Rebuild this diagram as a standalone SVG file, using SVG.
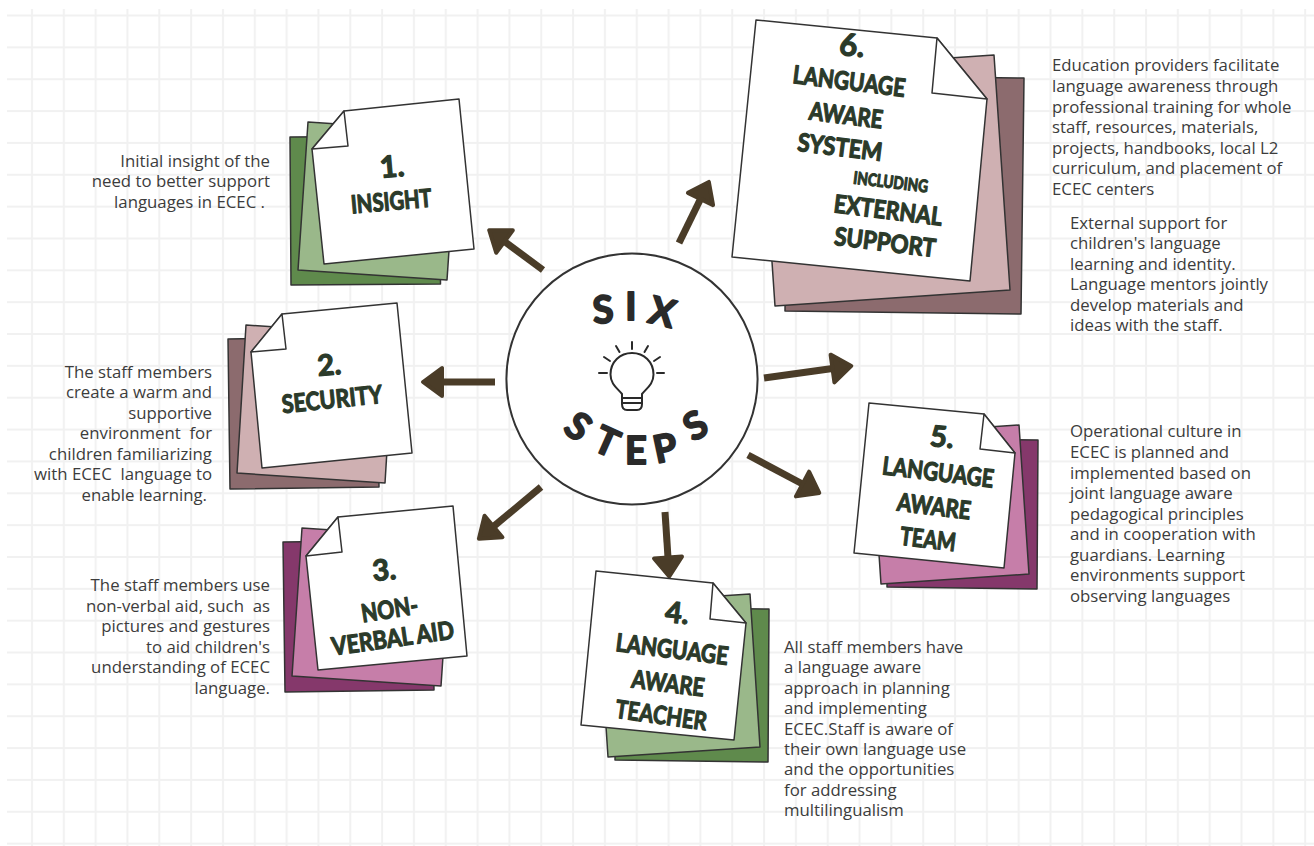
<svg xmlns="http://www.w3.org/2000/svg" width="1314" height="846" viewBox="0 0 1314 846">
<style>
.back{stroke:#333;stroke-width:1.5;stroke-linejoin:round}
.gd{fill:#5f8a4c}.gm{fill:#9ab88a}
.md{fill:#8c6b6e}.mm{fill:#cfb0b2}
.pd{fill:#85386b}.pm{fill:#c67ea9}
.sheet{fill:#fff;stroke:#333;stroke-width:1.5;stroke-linejoin:round}
.hand{font-family:Lato,"Open Sans",sans-serif;font-weight:700;fill:#2b3a2a;stroke:#2b3a2a;stroke-width:1.2;stroke-linejoin:round;text-anchor:middle}
.ring{font-family:Lato,"Open Sans",sans-serif;font-weight:700;font-size:38px;fill:#2a2a2a;stroke:#2a2a2a;stroke-width:1.8;stroke-linejoin:round;text-anchor:middle}
.body{font-family:"Open Sans",sans-serif;font-size:16.8px;fill:#3c3c3c}
.r{text-anchor:end}
.conn{stroke:#4a3c28;stroke-width:7;fill:none;marker-end:url(#head)}
.bulb{fill:none;stroke:#2a2a2a;stroke-width:2;stroke-linecap:round;stroke-linejoin:round}
</style>
<defs>
<pattern id="grid" patternUnits="userSpaceOnUse" x="16" y="-0.4" width="31.83" height="31.85">
<path d="M16 0V31.85M0 15.9H31.83" stroke="#f1f1f1" stroke-width="2" fill="none"/>
</pattern>
<marker id="head" markerUnits="userSpaceOnUse" markerWidth="28" markerHeight="36" refX="2" refY="16" orient="auto" overflow="visible">
<path d="M2 2L21 16L2 30Z" fill="#4a3c28" stroke="#4a3c28" stroke-width="4" stroke-linejoin="round"/>
</marker>
</defs>
<rect id="background" width="1314" height="846" fill="#fff"/>
<rect id="grid-paper" x="7" y="9" width="1307" height="837" fill="url(#grid)"/>

<g id="connectors">
<line class="conn" x1="543" y1="270" x2="504.5" y2="241.5"/>
<line class="conn" x1="495" y1="382" x2="442" y2="382"/>
<line class="conn" x1="541" y1="487" x2="493.5" y2="526.5"/>
<line class="conn" x1="665" y1="512" x2="668" y2="557.5"/>
<line class="conn" x1="748" y1="455" x2="802.5" y2="484"/>
<line class="conn" x1="764" y1="378" x2="832.5" y2="368.5"/>
<line class="conn" x1="679" y1="243" x2="700.5" y2="199"/>
</g>

<g id="hub">
<circle cx="632" cy="379" r="125.6" fill="#fff" stroke="#333" stroke-width="2"/>
<text class="ring" transform="translate(604 323) rotate(-4)">S</text>
<text class="ring" transform="translate(631 320)">I</text>
<text class="ring" transform="translate(659 325) rotate(14)">X</text>
<text class="ring" transform="translate(570 437) rotate(38)">S</text>
<text class="ring" transform="translate(601.500 454) rotate(24)">T</text>
<text class="ring" transform="translate(636 464) rotate(0)">E</text>
<text class="ring" transform="translate(668 461) rotate(-12)">P</text>
<text class="ring" transform="translate(702 437) rotate(-30)">S</text>
<g class="bulb">
<path d="M622 394C617 388 610.500 384 610.500 374.500C610.500 362 620 353 632 353C644 353 653.500 362 653.500 374.500C653.500 384 647 388 642 394V404C642 408 640 410 637 410H627C624 410 622 408 622 404Z"/>
<path d="M622 398H642M622 403H642"/>
<path d="M632 342V349M616 346L619.500 352M648 346L644.500 352M604 357L610 361M660 357L654 361M599 373H607M657 373H664"/>
</g>
</g>

<g id="step-1">
<polygon class="back gd" points="290,137 439.500,136 440.500,284 291,285"/>
<polygon class="back gm" points="308,122 457,132 447,280 298,270"/>
<polygon class="sheet" points="344,111 459,99 474,249 324,264 312,149"/>
<polygon class="sheet" points="344,111 312,149 348,146"/>
<text class="hand" font-size="30" transform="translate(393 177) rotate(-5)">1.</text>
<text class="hand" font-size="25" textLength="81" lengthAdjust="spacingAndGlyphs" transform="translate(392 210) rotate(-5)">INSIGHT</text>
</g>

<g id="step-2">
<polygon class="back md" points="228,339 377,337 379,487 230,489"/>
<polygon class="back mm" points="246,325 394,335 385,483 237,473"/>
<polygon class="sheet" points="282,314 397,303 412,453 262,468 251,352"/>
<polygon class="sheet" points="282,314 251,352 286,349"/>
<text class="hand" font-size="29" transform="translate(330 375) rotate(-5)">2.</text>
<text class="hand" font-size="25" textLength="101" lengthAdjust="spacingAndGlyphs" transform="translate(333 408) rotate(-6)">SECURITY</text>
</g>

<g id="step-3">
<polygon class="back pd" points="283,542 432,540 434,690 285,692"/>
<polygon class="back pm" points="302,528 451,538 441,686 292,676"/>
<polygon class="sheet" points="338,517 453,506 467,656 318,670 306,556"/>
<polygon class="sheet" points="338,517 306,556 342,552"/>
<text class="hand" font-size="29" transform="translate(385 580) rotate(-5)">3.</text>
<text class="hand" font-size="25" textLength="57" lengthAdjust="spacingAndGlyphs" transform="translate(391 618) rotate(-9)">NON-</text>
<text class="hand" font-size="25" textLength="123" lengthAdjust="spacingAndGlyphs" transform="translate(394 647) rotate(-8)">VERBAL AID</text>
</g>

<g id="step-4">
<polygon class="back gd" points="616,607 769,609 768,762 615,760"/>
<polygon class="back gm" points="598,604 750,594 760,747 608,757"/>
<polygon class="sheet" points="596,571 713,583 746,623 734,740 581,725"/>
<polygon class="sheet" points="713,583 746,623 710,619"/>
<text class="hand" font-size="29" transform="translate(676 623) rotate(6)">4.</text>
<text class="hand" font-size="25" textLength="113" lengthAdjust="spacingAndGlyphs" transform="translate(671 658) rotate(7)">LANGUAGE</text>
<text class="hand" font-size="25" textLength="73" lengthAdjust="spacingAndGlyphs" transform="translate(667 692) rotate(7)">AWARE</text>
<text class="hand" font-size="25" textLength="92" lengthAdjust="spacingAndGlyphs" transform="translate(660 724) rotate(8)">TEACHER</text>
</g>

<g id="step-5">
<polygon class="back pd" points="888,438 1038,440 1037,589 887,587"/>
<polygon class="back pm" points="871,435 1019,425 1029,574 881,584"/>
<polygon class="sheet" points="869,403 984,414 1015,453 1004,568 854,553"/>
<polygon class="sheet" points="984,414 1015,453 980,449"/>
<text class="hand" font-size="29" transform="translate(941 447) rotate(6)">5.</text>
<text class="hand" font-size="25" textLength="112" lengthAdjust="spacingAndGlyphs" transform="translate(937 481) rotate(7)">LANGUAGE</text>
<text class="hand" font-size="25" textLength="74" lengthAdjust="spacingAndGlyphs" transform="translate(933 515) rotate(7)">AWARE</text>
<text class="hand" font-size="25" textLength="56" lengthAdjust="spacingAndGlyphs" transform="translate(927 548) rotate(7)">TEAM</text>
</g>

<g id="step-6">
<polygon class="back md" points="788,75 1024,78 1021,314 785,311"/>
<polygon class="back mm" points="759,71 994,55 1010,290 775,306"/>
<polygon class="sheet" points="756,20 937,38 987,99 970,281 732,257"/>
<polygon class="sheet" points="937,38 987,99 932,93"/>
<text class="hand" font-size="31" transform="translate(851 56) rotate(6)">6.</text>
<text class="hand" font-size="25" textLength="113" lengthAdjust="spacingAndGlyphs" transform="translate(848 90) rotate(7)">LANGUAGE</text>
<text class="hand" font-size="25" textLength="74" lengthAdjust="spacingAndGlyphs" transform="translate(845 124) rotate(7)">AWARE</text>
<text class="hand" font-size="25" textLength="85" lengthAdjust="spacingAndGlyphs" transform="translate(839 156) rotate(7)">SYSTEM</text>
<text class="hand" font-size="17" stroke-width=".5" textLength="75" lengthAdjust="spacingAndGlyphs" transform="translate(890 188) rotate(7)">INCLUDING</text>
<text class="hand" font-size="25" textLength="109" lengthAdjust="spacingAndGlyphs" transform="translate(887 219) rotate(7)">EXTERNAL</text>
<text class="hand" font-size="25" textLength="102" lengthAdjust="spacingAndGlyphs" transform="translate(884 251) rotate(7)">SUPPORT</text>
</g>

<g id="descriptions">
<text class="body r"><tspan x="270" y="167">Initial insight of the</tspan><tspan x="270" y="187">need to better support</tspan><tspan x="265" y="208">languages in ECEC .</tspan></text>
<text class="body r"><tspan x="212" y="378">The staff members</tspan><tspan x="212" y="398">create a warm and</tspan><tspan x="212" y="419">supportive</tspan><tspan x="212" y="439" xml:space="preserve">environment  for</tspan><tspan x="212" y="460">children familiarizing</tspan><tspan x="212" y="480" xml:space="preserve">with ECEC  language to</tspan><tspan x="207" y="501">enable learning.</tspan></text>
<text class="body r"><tspan x="270" y="591">The staff members use</tspan><tspan x="270" y="612" xml:space="preserve">non-verbal aid, such  as</tspan><tspan x="270" y="632">pictures and gestures</tspan><tspan x="270" y="653">to aid children's</tspan><tspan x="270" y="673">understanding of ECEC</tspan><tspan x="270" y="694">language.</tspan></text>
<text class="body"><tspan x="784" y="653">All staff members have</tspan><tspan x="784" y="673">a language aware</tspan><tspan x="784" y="694">approach in planning</tspan><tspan x="784" y="714">and implementing</tspan><tspan x="784" y="735">ECEC.Staff is aware of</tspan><tspan x="784" y="755">their own language use</tspan><tspan x="784" y="775">and the opportunities</tspan><tspan x="784" y="796">for addressing</tspan><tspan x="784" y="816">multilingualism</tspan></text>
<text class="body"><tspan x="1070" y="437">Operational culture in</tspan><tspan x="1070" y="458">ECEC is planned and</tspan><tspan x="1070" y="479">implemented based on</tspan><tspan x="1070" y="499">joint language aware</tspan><tspan x="1070" y="520">pedagogical principles</tspan><tspan x="1070" y="540">and in cooperation with</tspan><tspan x="1070" y="561">guardians. Learning</tspan><tspan x="1070" y="581">environments support</tspan><tspan x="1070" y="602">observing languages</tspan></text>
<text class="body"><tspan x="1052" y="71">Education providers facilitate</tspan><tspan x="1052" y="92">language awareness through</tspan><tspan x="1052" y="113">professional training for whole</tspan><tspan x="1052" y="133">staff, resources, materials,</tspan><tspan x="1052" y="154">projects, handbooks, local L2</tspan><tspan x="1052" y="174">curriculum, and placement of</tspan><tspan x="1052" y="195">ECEC centers</tspan></text>
<text class="body"><tspan x="1070" y="229">External support for</tspan><tspan x="1070" y="249">children's language</tspan><tspan x="1070" y="270">learning and identity.</tspan><tspan x="1070" y="290">Language mentors jointly</tspan><tspan x="1070" y="311">develop materials and</tspan><tspan x="1070" y="331">ideas with the staff.</tspan></text>
</g>
</svg>
